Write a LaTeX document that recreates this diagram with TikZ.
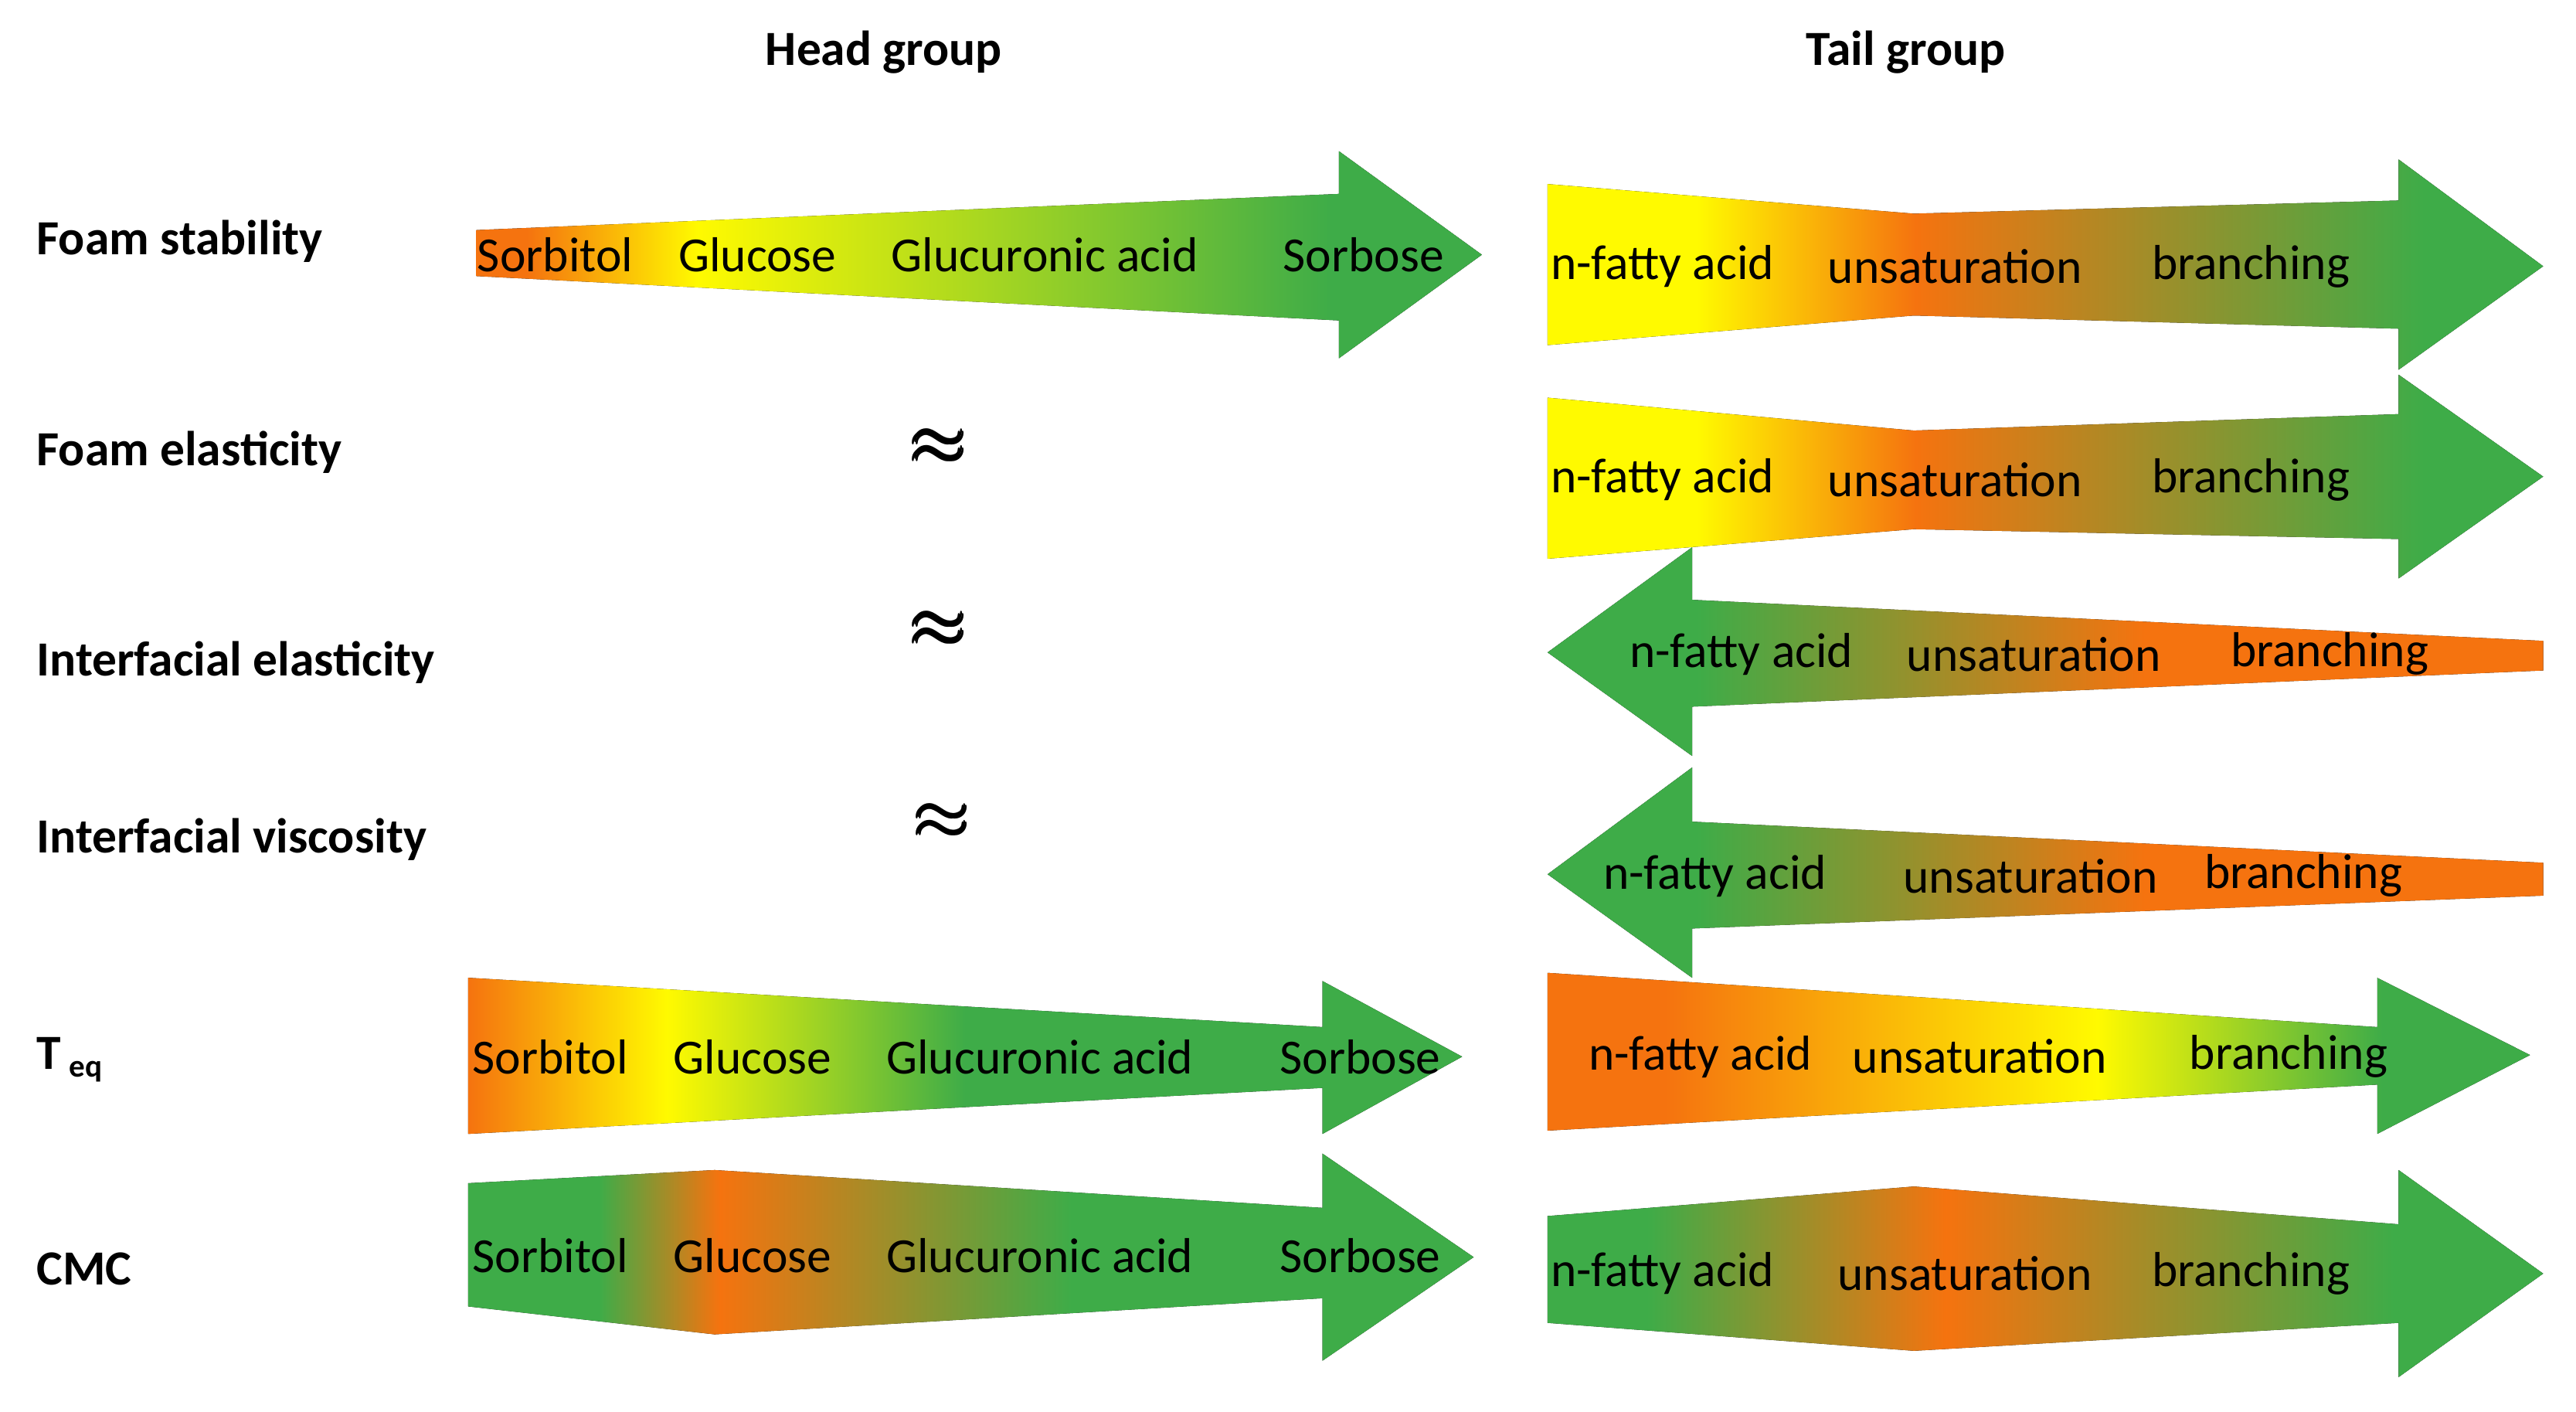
\documentclass[tikz,border=0pt]{standalone}
\usepackage{amsmath}
\usepackage{fontspec}
\setmainfont{Carlito}
\definecolor{og}{RGB}{245,115,15}
\definecolor{yl}{RGB}{255,250,0}
\definecolor{gr}{RGB}{62,172,72}
% path bbox maps to 25bp..75bp of the 100bp shading
\pgfdeclarehorizontalshading{sA}{100bp}{color(0bp)=(og); color(27.5bp)=(og); color(36bp)=(yl); color(67.5bp)=(gr); color(100bp)=(gr)}
\pgfdeclarehorizontalshading{sB}{100bp}{color(0bp)=(yl); color(32.5bp)=(yl); color(43.5bp)=(og); color(69bp)=(gr); color(100bp)=(gr)}
\pgfdeclarehorizontalshading{sC}{100bp}{color(0bp)=(gr); color(32.5bp)=(gr); color(55bp)=(og); color(100bp)=(og)}
\pgfdeclarehorizontalshading{sD}{100bp}{color(0bp)=(og); color(25bp)=(og); color(35bp)=(yl); color(50bp)=(gr); color(100bp)=(gr)}
\pgfdeclarehorizontalshading{sE}{100bp}{color(0bp)=(og); color(31bp)=(og); color(53bp)=(yl); color(67.5bp)=(gr); color(100bp)=(gr)}
\pgfdeclarehorizontalshading{sF}{100bp}{color(0bp)=(gr); color(31.5bp)=(gr); color(37.5bp)=(og); color(55bp)=(gr); color(100bp)=(gr)}
\pgfdeclarehorizontalshading{sG}{100bp}{color(0bp)=(gr); color(30bp)=(gr); color(45bp)=(og); color(67.5bp)=(gr); color(100bp)=(gr)}
\begin{document}
\begin{tikzpicture}[x=0.02cm,y=-0.02cm,
  t/.style={font=\fontsize{17}{19}\selectfont, inner sep=0pt},
  lab/.style={font=\bfseries\fontsize{17}{19}\selectfont, anchor=west, inner sep=0pt},
  apx/.style={font=\fontsize{60}{62}\selectfont, inner sep=0pt}]
\useasboundingbox (0,0) rectangle (1568,858.8);
% headings
\node[t,font=\bfseries\fontsize{17}{19}\selectfont] (hh) at (538,32) {Head group};
\node[t,font=\bfseries\fontsize{17}{19}\selectfont] (th) at (1160,32) {Tail group};
% labels
\node[lab] (l1) at (22,147) {Foam stability};
\node[lab] (l2) at (22,275) {Foam elasticity};
\node[lab] (l3) at (22,403) {Interfacial elasticity};
\node[lab] (l4) at (22,511) {Interfacial viscosity};
\node[lab] (l5) at (22,645) {T\,{\fontsize{11}{12}\selectfont\raisebox{-0.5ex}{eq}}};
\node[lab] (l6) at (22,772) {CMC};
% approx
\node[apx] (a1) at (572,272) {$\pmb{\approx}$};
\node[apx] (a2) at (572,383) {$\pmb{\approx}$};
\node[apx] (a3) at (574,500) {$\pmb{\approx}$};
% row 1
\fill[shading=sA] (290,140) -- (815,118) -- (815,92) -- (902,155) -- (815,218) -- (815,195) -- (290,168) -- cycle;
\fill[shading=sB] (942,112) -- (1165,130) -- (1460,122) -- (1460,97) -- (1548,162) -- (1460,225) -- (1460,200) -- (1165,192) -- (942,210) -- cycle;
% row 2
\fill[shading=sB] (942,242) -- (1165,262) -- (1460,252) -- (1460,228) -- (1548,290) -- (1460,352) -- (1460,328) -- (1165,322) -- (942,340) -- cycle;
% row 3
\fill[shading=sC] (942,397) -- (1030,333) -- (1030,365) -- (1548,390) -- (1548,408) -- (1030,430) -- (1030,460) -- cycle;
% row 4
\fill[shading=sC] (942,532) -- (1030,467) -- (1030,500) -- (1548,525) -- (1548,545) -- (1030,565) -- (1030,595) -- cycle;
% row 5
\fill[shading=sD] (285,595) -- (805,625) -- (805,597) -- (890,643) -- (805,690) -- (805,662) -- (285,690) -- cycle;
\fill[shading=sE] (942,592) -- (1447,625) -- (1447,595) -- (1540,642) -- (1447,690) -- (1447,660) -- (942,688) -- cycle;
% row 6
\fill[shading=sF] (285,720) -- (435,712) -- (805,735) -- (805,702) -- (897,765) -- (805,828) -- (805,790) -- (435,812) -- (285,795) -- cycle;
\fill[shading=sG] (942,740) -- (1165,722) -- (1460,745) -- (1460,712) -- (1548,775) -- (1460,838) -- (1460,805) -- (1165,822) -- (942,805) -- cycle;
% texts
\node[t] (h11) at (338,155) {Sorbitol};
\node[t] (h12) at (461,155) {Glucose};
\node[t] (h13) at (636,155) {Glucuronic acid};
\node[t] (h14) at (830,155) {Sorbose};
\node[t] (t11) at (1012,162) {n-fatty acid};
\node[t] (t12) at (1190,162) {unsaturation};
\node[t] (t13) at (1370,162) {branching};
\node[t] (t21) at (1012,292) {n-fatty acid};
\node[t] (t22) at (1190,292) {unsaturation};
\node[t] (t23) at (1370,292) {branching};
\node[t] (t31) at (1060,398) {n-fatty acid};
\node[t] (t32) at (1238,398) {unsaturation};
\node[t] (t33) at (1418,398) {branching};
\node[t] (t41) at (1044,533) {n-fatty acid};
\node[t] (t42) at (1236,533) {unsaturation};
\node[t] (t43) at (1402,533) {branching};
\node[t] (h51) at (335,643) {Sorbitol};
\node[t] (h52) at (458,643) {Glucose};
\node[t] (h53) at (633,643) {Glucuronic acid};
\node[t] (h54) at (828,643) {Sorbose};
\node[t] (t51) at (1035,643) {n-fatty acid};
\node[t] (t52) at (1205,643) {unsaturation};
\node[t] (t53) at (1393,643) {branching};
\node[t] (h61) at (335,764) {Sorbitol};
\node[t] (h62) at (458,764) {Glucose};
\node[t] (h63) at (633,764) {Glucuronic acid};
\node[t] (h64) at (828,764) {Sorbose};
\node[t] (t61) at (1012,775) {n-fatty acid};
\node[t] (t62) at (1196,775) {unsaturation};
\node[t] (t63) at (1370,775) {branching};
\end{tikzpicture}
\end{document}
